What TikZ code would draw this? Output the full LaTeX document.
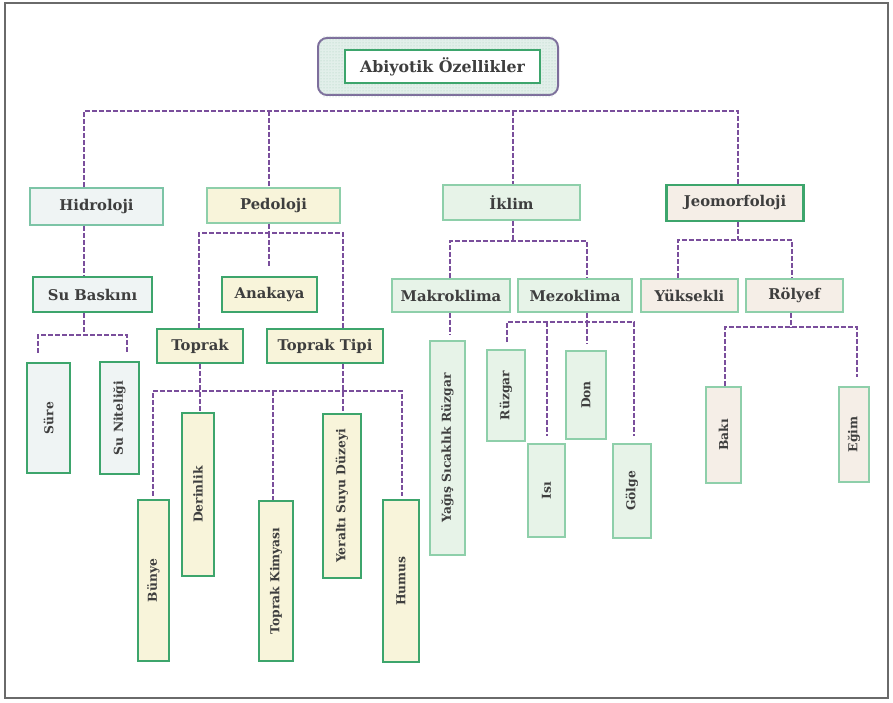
\documentclass[tikz,border=0pt]{standalone}
\usepackage{fontspec}
\usepackage{graphicx}
\setmainfont{DejaVu Serif}
\usetikzlibrary{patterns}
\definecolor{txt}{HTML}{3E3E3E}
\definecolor{frm}{HTML}{6A6A6A}
\definecolor{pur}{HTML}{7A4E9C}
\definecolor{gstrong}{HTML}{3DA56C}
\definecolor{glight}{HTML}{8ECFAA}
\definecolor{ghyd}{HTML}{7CC4A6}
\definecolor{fhyd}{HTML}{EFF4F4}
\definecolor{fped}{HTML}{F8F4DA}
\definecolor{fikl}{HTML}{E7F3E8}
\definecolor{fjeo}{HTML}{F5EEE7}
\definecolor{ftop}{HTML}{E2EFEA}
\definecolor{dtop}{HTML}{A9CDBB}
\definecolor{btop}{HTML}{7D6E9C}
\begin{document}
\begin{tikzpicture}[x=1pt,y=-1pt,
  box/.style={draw, rectangle, inner sep=0pt, text=txt, font=\bfseries\fontsize{14.8}{16}\selectfont},
  vbox/.style={box, font=\bfseries\fontsize{12.3}{14}\selectfont},
  hydS/.style={fill=fhyd, draw=gstrong, line width=2.2pt},
  hydL/.style={fill=fhyd, draw=ghyd, line width=1.6pt},
  pedS/.style={fill=fped, draw=gstrong, line width=2.2pt},
  pedL/.style={fill=fped, draw=glight, line width=1.6pt},
  iklL/.style={fill=fikl, draw=glight, line width=1.6pt},
  jeoS/.style={fill=fjeo, draw=gstrong, line width=2.2pt},
  jeoL/.style={fill=fjeo, draw=glight, line width=1.6pt},
  conn/.style={draw=pur, line width=1.9pt, dash pattern=on 5pt off 2pt}
]
\useasboundingbox (0,0) rectangle (893,703);
\fill[white] (0,0) rectangle (893,703);
\draw[frm, line width=2.5pt] (5,3) rectangle (888,698);

% top node
\node[draw=btop, fill=ftop, line width=2pt, rounded corners=9pt, minimum width=240pt, minimum height=57pt, inner sep=0pt] (outer) at (438,66.5) {};
\fill[pattern=dots, pattern color=dtop, rounded corners=8pt] ([shift={(2pt,-2pt)}]outer.south west) rectangle ([shift={(-2pt,2pt)}]outer.north east);
\node[box, fill=white, draw=gstrong, line width=2.4pt, minimum width=195pt, minimum height=33pt, font=\bfseries\fontsize{15.8}{17}\selectfont] (ab) at (442.5,66.5) {Abiyotik Özellikler};

% level 2
\node[box, hydL, minimum width=133pt, minimum height=37pt] (hid) at (96.5,206.5) {Hidroloji};
\node[box, pedL, minimum width=133pt, minimum height=35pt] (ped) at (273.5,205.5) {Pedoloji};
\node[box, iklL, minimum width=137pt, minimum height=35pt] (ikl) at (511.5,202.5) {İklim};
\node[box, jeoS, minimum width=137pt, minimum height=36pt] (jeo) at (735,203) {Jeomorfoloji};

% level 3
\node[box, hydS, minimum width=119pt, minimum height=35pt] (sub) at (92.5,294.5) {Su Baskını};
\node[box, pedS, minimum width=95pt, minimum height=35pt] (ana) at (269.5,294.5) {Anakaya};
\node[box, pedS, minimum width=86pt, minimum height=34pt] (top) at (200,346) {Toprak};
\node[box, pedS, minimum width=116pt, minimum height=34pt] (tti) at (325,346) {Toprak Tipi};
\node[box, iklL, minimum width=118pt, minimum height=33pt] (mak) at (451,295.5) {Makroklima};
\node[box, iklL, minimum width=114pt, minimum height=33pt] (mez) at (575,295.5) {Mezoklima};
\node[box, jeoL, minimum width=97pt, minimum height=33pt] (yuk) at (689.5,295.5) {Yüksekli};
\node[box, jeoL, minimum width=97pt, minimum height=33pt] (rol) at (794.5,295.5) {Rölyef};

% vertical boxes
\node[vbox, hydS, minimum width=43pt, minimum height=110pt] (sur) at (48.5,418) {\rotatebox{90}{Süre}};
\node[vbox, hydS, minimum width=39pt, minimum height=112pt] (sun) at (119.5,418) {\rotatebox{90}{Su Niteliği}};
\node[vbox, pedS, minimum width=31pt, minimum height=161pt] (bun) at (153.5,580.5) {\rotatebox{90}{Bünye}};
\node[vbox, pedS, minimum width=32pt, minimum height=163pt] (der) at (198,494.5) {\rotatebox{90}{Derinlik}};
\node[vbox, pedS, minimum width=34pt, minimum height=160pt] (tki) at (276,581) {\rotatebox{90}{Toprak Kimyası}};
\node[vbox, pedS, minimum width=38pt, minimum height=164pt] (yer) at (342,496) {\rotatebox{90}{Yeraltı Suyu Düzeyi}};
\node[vbox, pedS, minimum width=36pt, minimum height=162pt] (hum) at (401,581) {\rotatebox{90}{Humus}};
\node[vbox, iklL, minimum width=35pt, minimum height=214pt] (yag) at (447.5,448) {\rotatebox{90}{Yağış Sıcaklık Rüzgar}};
\node[vbox, iklL, minimum width=38pt, minimum height=91pt] (ruz) at (506,395.5) {\rotatebox{90}{Rüzgar}};
\node[vbox, iklL, minimum width=37pt, minimum height=93pt] (isi) at (546.5,490.5) {\rotatebox{90}{Isı}};
\node[vbox, iklL, minimum width=40pt, minimum height=88pt] (don) at (586,395) {\rotatebox{90}{Don}};
\node[vbox, iklL, minimum width=38pt, minimum height=94pt] (gol) at (632,491) {\rotatebox{90}{Gölge}};
\node[vbox, jeoL, minimum width=35pt, minimum height=96pt] (bak) at (723.5,435) {\rotatebox{90}{Bakı}};
\node[vbox, jeoL, minimum width=30pt, minimum height=95pt] (egi) at (854,434.5) {\rotatebox{90}{Eğim}};

% junction coordinates
\coordinate (tL) at (84,111); \coordinate (tP) at (269,111);
\coordinate (tI) at (513,111); \coordinate (tJ) at (738,111);
\coordinate (s1) at (84,335); \coordinate (sL) at (38,335); \coordinate (sR) at (127,335);
\coordinate (pL) at (199,233); \coordinate (pM) at (269,233); \coordinate (pR) at (343,233);
\coordinate (kL) at (153,391); \coordinate (kT) at (273,391); \coordinate (kR) at (402,391);
\coordinate (iL) at (450,241); \coordinate (iM) at (513,241); \coordinate (iR) at (587,241);
\coordinate (mL) at (507,322); \coordinate (mI) at (547,322); \coordinate (mM) at (587,322); \coordinate (mR) at (634,322);
\coordinate (jL) at (678,240); \coordinate (jM) at (738,240); \coordinate (jR) at (792,240);
\coordinate (rL) at (725,327); \coordinate (rM) at (791,327); \coordinate (rR) at (857,327);

% connectors
\draw[conn] (hid.north -| tL) -- (tL) -- (tJ) -- (jeo.north -| tJ);
\draw[conn] (tP) -- (ped.north -| tP);
\draw[conn] (tI) -- (ikl.north -| tI);

\draw[conn] (hid.south -| tL) -- (sub.north -| tL);
\draw[conn] (sub.south -| s1) -- (s1);
\draw[conn, shorten <=9pt, shorten >=9pt] (sur.north -| sL) -- (sL) -- (sR) -- (sun.north -| sR);

\draw[conn] (ped.south -| pM) -- (pM);
\draw[conn] (top.north -| pL) -- (pL) -- (pR) -- (tti.north -| pR);
\draw[conn, shorten >=10pt] (pM) -- (ana.north -| pM);

\draw[conn] (top.south) -- (der.north -| top.south);
\draw[conn] (tti.south -| pR) -- (yer.north -| pR);
\draw[conn, shorten <=3pt, shorten >=3pt] (bun.north -| kL) -- (kL) -- (kR) -- (hum.north -| kR);
\draw[conn] (kT) -- (tki.north -| kT);

\draw[conn] (ikl.south -| iM) -- (iM);
\draw[conn] (mak.north -| iL) -- (iL) -- (iR) -- (mez.north -| iR);
\draw[conn, shorten >=5pt] (mak.south -| iL) -- (yag.north -| iL);

\draw[conn] (mez.south -| mM) -- (mM);
\draw[conn, shorten <=7pt, shorten >=7pt] (ruz.north -| mL) -- (mL) -- (mR) -- (gol.north -| mR);
\draw[conn, shorten >=7pt] (mM) -- (don.north -| mM);
\draw[conn, shorten >=7pt] (mI) -- (isi.north -| mI);

\draw[conn] (jeo.south -| jM) -- (jM);
\draw[conn] (yuk.north -| jL) -- (jL) -- (jR) -- (rol.north -| jR);
\draw[conn] (rol.south -| rM) -- (rM);
\draw[conn, shorten >=9pt] (bak.north -| rL) -- (rL) -- (rR) -- (egi.north -| rR);
\end{tikzpicture}
\end{document}
